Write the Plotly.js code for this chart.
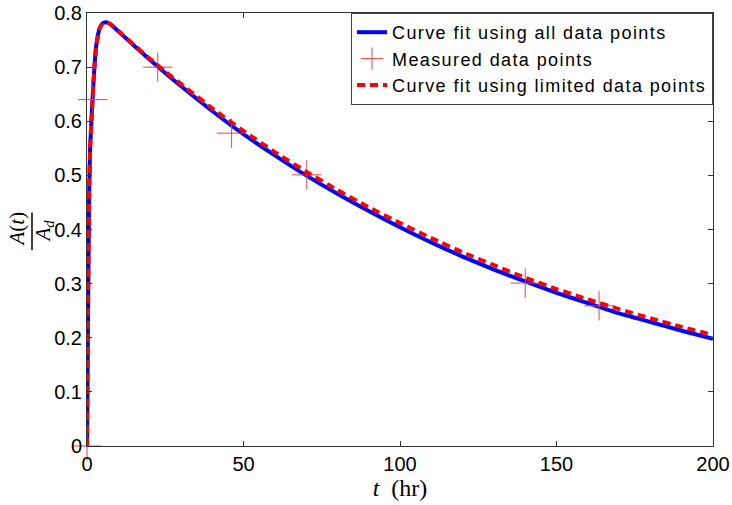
<!DOCTYPE html>
<html>
<head>
<meta charset="utf-8">
<script src="https://cdn.plot.ly/plotly-3.0.1.min.js"></script>
<style>html,body{margin:0;padding:0;background:#fff;}#chart{width:732px;height:505px;}
.legendtext{letter-spacing:1.4px;}</style>
</head>
<body>
<div id="chart"></div>
<script>
var tFit = [0, 0.15, 0.3, 0.5, 0.7, 1.0, 1.5, 2, 2.5, 3, 4, 5, 6, 7, 8, 10, 15, 20, 25, 30, 40, 50, 60, 70, 80, 90, 100, 110, 120, 130, 140, 150, 160, 170, 180, 190, 200];
var fitAll = [0, 0.10, 0.22, 0.36, 0.47, 0.55, 0.61, 0.665, 0.71, 0.742, 0.771, 0.781, 0.783, 0.781, 0.777, 0.766, 0.740, 0.714, 0.689, 0.665, 0.619, 0.576, 0.537, 0.500, 0.466, 0.434, 0.404, 0.376, 0.350, 0.326, 0.304, 0.283, 0.264, 0.245, 0.229, 0.213, 0.198];
var fitLimited = [0, 0.10, 0.22, 0.36, 0.47, 0.55, 0.61, 0.665, 0.71, 0.742, 0.771, 0.781, 0.783, 0.781, 0.777, 0.767, 0.741, 0.716, 0.692, 0.669, 0.624, 0.582, 0.543, 0.507, 0.473, 0.441, 0.412, 0.384, 0.358, 0.334, 0.311, 0.290, 0.271, 0.253, 0.236, 0.220, 0.205];
var tMeas = [0, 1.8, 22.6, 46.2, 70.2, 140, 163.6];
var yMeas = [0, 0.64, 0.70, 0.578, 0.501, 0.301, 0.259];
var xTicks = [0, 50, 100, 150, 200];
var yTicks = [0, 0.1, 0.2, 0.3, 0.4, 0.5, 0.6, 0.7, 0.8];
var legendNames = ['Curve fit using all data points', 'Measured data points', 'Curve fit using limited data points'];

var traces = [
  {x: tFit, y: fitAll, type: 'scatter', mode: 'lines', name: legendNames[0],
   line: {color: '#0000ff', width: 4, shape: 'spline', smoothing: 0.5}},
  {x: tMeas, y: yMeas, type: 'scatter', mode: 'markers', name: legendNames[1], cliponaxis: false,
   marker: {symbol: 'cross-thin', size: 21, color: '#e04848', line: {color: '#e04848', width: 1}}},
  {x: tFit, y: fitLimited, type: 'scatter', mode: 'lines', name: legendNames[2],
   line: {color: '#ff0000', width: 4, dash: '8px,5px', shape: 'spline', smoothing: 0.5}}
];

var axisCommon = {
  showgrid: false, zeroline: false, showline: true, linecolor: '#333', linewidth: 1,
  mirror: 'ticks', ticks: 'inside', ticklen: 5, tickcolor: '#333', tickwidth: 1,
  tickfont: {family: 'Liberation Sans, Arial, sans-serif', size: 20, color: '#000'}
};

var layout = {
  width: 732, height: 505,
  margin: {l: 87, r: 19, t: 13, b: 59},
  paper_bgcolor: '#fff', plot_bgcolor: '#fff',
  showlegend: true,
  legend: {x: 1, xanchor: 'right', y: 1, yanchor: 'top', bgcolor: '#fff', bordercolor: '#444', borderwidth: 1,
           font: {family: 'Liberation Sans, Arial, sans-serif', size: 18, color: '#000'}, tracegroupgap: 0, itemwidth: 30},
  xaxis: Object.assign({}, axisCommon, {range: [0, 200], tickvals: xTicks, ticktext: xTicks.map(String),
    title: {text: '<i>t</i>  (hr)', font: {family: 'Liberation Serif, DejaVu Serif, serif', size: 24, color: '#000'}, standoff: 2}}),
  yaxis: Object.assign({}, axisCommon, {range: [0, 0.8], tickvals: yTicks, ticktext: yTicks.map(function(v){return v === 0 ? '0' : v.toFixed(1);})}),
  annotations: [
    {xref: 'paper', yref: 'paper', x: 0, y: 0.5, xshift: -71, yshift: 0, text: '<i>A</i>(<i>t</i>)', showarrow: false, textangle: -90,
     font: {family: 'Liberation Serif, DejaVu Serif, serif', size: 21, color: '#000'}, xanchor: 'center', yanchor: 'middle'},
    {xref: 'paper', yref: 'paper', x: 0, y: 0.5, xshift: -44, yshift: -2, text: '<i>A</i><sub><i>d</i></sub>', showarrow: false, textangle: -90,
     font: {family: 'Liberation Serif, DejaVu Serif, serif', size: 21, color: '#000'}, xanchor: 'center', yanchor: 'middle'}
  ],
  shapes: [
    {type: 'line', xref: 'paper', yref: 'paper', xsizemode: 'pixel', xanchor: 0, x0: -55, x1: -55, y0: 0.4527, y1: 0.5393,
     line: {color: '#000', width: 1.5}}
  ]
};

Plotly.newPlot('chart', traces, layout, {displayModeBar: false, staticPlot: true});
</script>
</body>
</html>
